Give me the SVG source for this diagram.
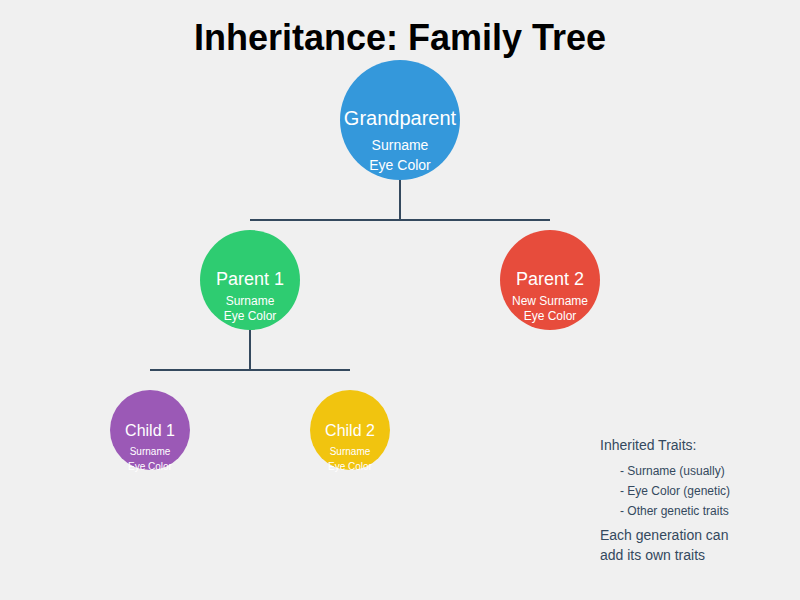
<svg xmlns="http://www.w3.org/2000/svg" width="800" height="600" viewBox="0 0 800 600">
<style>
text{font-family:"Liberation Sans",Arial,sans-serif}
.t{fill:#fff;text-anchor:middle}
.c{stroke:#34495e;stroke-width:2;fill:none}
.l{fill:#34495e}
</style>
<rect width="800" height="600" fill="#f0f0f0"/>
<text x="400" y="50" text-anchor="middle" font-size="36" font-weight="bold" fill="#000">Inheritance: Family Tree</text>
<g id="connectors">
<path class="c" d="M400 180V220M250 220H550M250 330V370M150 370H350"/>
</g>
<g id="grandparent">
<circle cx="400" cy="120" r="60" fill="#3498db"/>
<text class="t" x="400" y="125" font-size="20">Grandparent</text>
<text class="t" x="400" y="150" font-size="14">Surname</text>
<text class="t" x="400" y="170" font-size="14">Eye Color</text>
</g>
<g id="parent1">
<circle cx="250" cy="280" r="50" fill="#2ecc71"/>
<text class="t" x="250" y="285" font-size="18">Parent 1</text>
<text class="t" x="250" y="305" font-size="12">Surname</text>
<text class="t" x="250" y="320" font-size="12">Eye Color</text>
</g>
<g id="parent2">
<circle cx="550" cy="280" r="50" fill="#e74c3c"/>
<text class="t" x="550" y="285" font-size="18">Parent 2</text>
<text class="t" x="550" y="305" font-size="12">New Surname</text>
<text class="t" x="550" y="320" font-size="12">Eye Color</text>
</g>
<g id="child1">
<circle cx="150" cy="430" r="40" fill="#9b59b6"/>
<text class="t" x="150" y="436" font-size="16">Child 1</text>
<text class="t" x="150" y="455" font-size="10">Surname</text>
<text class="t" x="150" y="470" font-size="10">Eye Color</text>
</g>
<g id="child2">
<circle cx="350" cy="430" r="40" fill="#f1c40f"/>
<text class="t" x="350" y="436" font-size="16">Child 2</text>
<text class="t" x="350" y="455" font-size="10">Surname</text>
<text class="t" x="350" y="470" font-size="10">Eye Color</text>
</g>
<g id="legend">
<text class="l" x="600" y="450" font-size="14">Inherited Traits:</text>
<text class="l" x="620" y="475" font-size="12">- Surname (usually)</text>
<text class="l" x="620" y="495" font-size="12">- Eye Color (genetic)</text>
<text class="l" x="620" y="515" font-size="12">- Other genetic traits</text>
<text class="l" x="600" y="540" font-size="14">Each generation can</text>
<text class="l" x="600" y="560" font-size="14">add its own traits</text>
</g>
</svg>
